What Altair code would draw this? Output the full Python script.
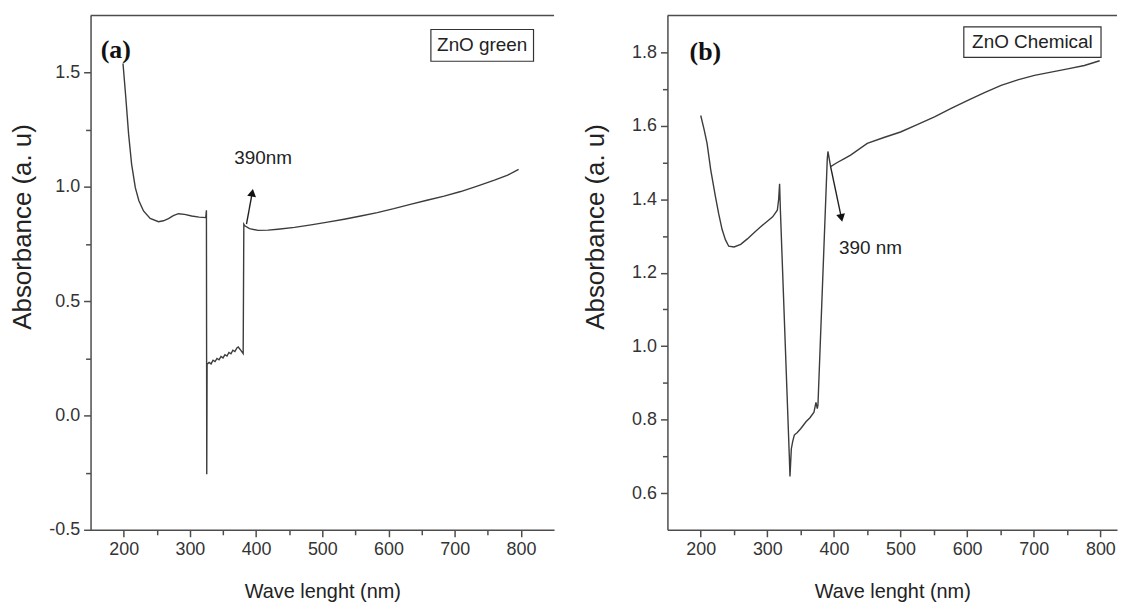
import altair as alt
import pandas as pd

# ---------------- data ----------------
# Panel (a): ZnO green
a_wl = [199, 203, 207.5, 212, 217.6, 223, 230, 240, 252.6, 260, 267.7, 275, 282.7, 292,
        302.7, 314, 324, 325, 325.5, 326,
        329, 332, 335, 338, 341, 344, 347, 350, 353, 356, 359, 362, 365, 368, 371, 373,
        377, 380.5, 381.5, 383, 390, 403, 418, 433, 458, 483, 508, 533, 558, 583, 608,
        633, 658, 684, 709, 734, 760, 780, 796.5]
a_abs = [1.54, 1.40, 1.23, 1.10, 0.997, 0.94, 0.895, 0.862, 0.848, 0.852, 0.862, 0.875, 0.883, 0.880,
         0.873, 0.868, 0.866, 0.898, -0.257, 0.224,
         0.232, 0.226, 0.242, 0.236, 0.250, 0.244, 0.258, 0.252, 0.266, 0.260, 0.276, 0.270, 0.286, 0.280, 0.296, 0.300,
         0.285, 0.271, 0.837, 0.830, 0.818, 0.810, 0.811, 0.815, 0.823, 0.834, 0.846, 0.859, 0.873, 0.888, 0.905,
         0.924, 0.942, 0.960, 0.980, 1.004, 1.030, 1.052, 1.077]

# Panel (b): ZnO Chemical
b_wl = [200, 205, 209.5, 215, 222, 227, 232, 237, 242, 250, 260, 270, 280, 290, 300, 308, 315,
        317, 318.4, 319.6, 333, 334, 336, 338, 340.5, 345, 350, 358, 364, 370, 373, 375, 376,
        390, 391, 395, 405, 415, 425, 450, 475, 500, 525, 551, 576, 601, 626, 651, 676, 701,
        726, 751, 776, 799]
b_abs = [1.628, 1.59, 1.552, 1.48, 1.408, 1.36, 1.318, 1.29, 1.272, 1.27, 1.277, 1.292, 1.309, 1.325, 1.34, 1.352, 1.37,
         1.40, 1.442, 1.37, 0.70, 0.645, 0.72, 0.74, 0.758, 0.765, 0.775, 0.794, 0.805, 0.82, 0.847, 0.83, 0.84,
         1.51, 1.53, 1.489, 1.50, 1.51, 1.52, 1.552, 1.568, 1.583, 1.603, 1.624, 1.647, 1.669, 1.69, 1.71, 1.725, 1.737,
         1.746, 1.755, 1.764, 1.777]

x_ticks = [200, 250, 300, 350, 400, 450, 500, 550, 600, 650, 700, 750, 800]
a_y_ticks = [-0.5, -0.25, 0.0, 0.25, 0.5, 0.75, 1.0, 1.25, 1.5]
b_y_ticks = [0.6, 0.7, 0.8, 0.9, 1.0, 1.1, 1.2, 1.3, 1.4, 1.5, 1.6, 1.7, 1.8]

x_title = "Wave lenght (nm)"
y_title = "Absorbance (a. u)"

# annotations (data coordinates)
a_letter = "(a)"; a_letter_xy = (188, 1.60)
b_letter = "(b)"; b_letter_xy = (207, 1.80)
a_box = (664, 819, 1.55, 1.689); a_box_text = "ZnO green"
b_box = (595, 801, 1.786, 1.869); b_box_text = "ZnO Chemical"
a_arrow = [(385.5, 0.837), (394.2, 0.975)]; a_arrow_angle = 10
b_arrow = [(395, 1.489), (411.2, 1.349)]; b_arrow_angle = 168
a_note = "390nm"; a_note_xy = (410.5, 1.128)
b_note = "390 nm"; b_note_xy = (455, 1.268)

FONT = "Liberation Sans, Arial, sans-serif"
INK = "#3c3c3c"
AX = "#4d4d4d"


def panel(wl, ab, xdom, ydom, w, h, yvals, ytest, title_x, title_y,
          letter, letter_xy, box, box_text, arrow, arrow_angle, note, note_xy):
    xtest = "datum.value % 100 === 0"
    x_enc = alt.X(
        "x:Q",
        scale=alt.Scale(domain=xdom, nice=False, zero=False),
        axis=alt.Axis(
            values=x_ticks, grid=False, title=x_title,
            labelExpr=f"{xtest} ? datum.label : ''",
            tickSize={"condition": {"test": xtest, "value": 7}, "value": 5},
            titlePadding=23, titleFontSize=20,
        ),
    )
    y_enc = alt.Y(
        "y:Q",
        scale=alt.Scale(domain=ydom, nice=False, zero=False),
        axis=alt.Axis(
            values=yvals, grid=False, title=y_title, format=".1f",
            labelExpr=f"{ytest} ? replace(datum.label, '\u2212', '-') : ''",
            tickSize={"condition": {"test": ytest, "value": 7}, "value": 5},
            titleX=title_x, titleY=title_y, titleFontSize=26,
        ),
    )

    df = pd.DataFrame({"x": wl, "y": ab, "i": list(range(len(wl)))})
    curve = alt.Chart(df).mark_line(color=INK, strokeWidth=1.4).encode(
        x=x_enc, y=y_enc, order="i:Q")

    box_df = pd.DataFrame({"x": [box[0]], "x2": [box[1]], "y": [box[2]], "y2": [box[3]]})
    rect = alt.Chart(box_df).mark_rect(fill="white", stroke="#333", strokeWidth=1.2).encode(
        x=x_enc, x2="x2:Q", y=y_enc, y2="y2:Q")

    bt_df = pd.DataFrame({"x": [(box[0] + box[1]) / 2], "y": [(box[2] + box[3]) / 2], "t": [box_text]})
    btext = alt.Chart(bt_df).mark_text(font=FONT, fontSize=19, color="#222").encode(
        x=x_enc, y=y_enc, text="t:N")

    lt_df = pd.DataFrame({"x": [letter_xy[0]], "y": [letter_xy[1]], "t": [letter]})
    ltext = alt.Chart(lt_df).mark_text(font="Liberation Serif", fontSize=26, fontWeight="bold",
                                       color="#111").encode(x=x_enc, y=y_enc, text="t:N")

    ar_df = pd.DataFrame({"x": [p[0] for p in arrow], "y": [p[1] for p in arrow], "i": [0, 1]})
    shaft = alt.Chart(ar_df).mark_line(color="#222", strokeWidth=1.4).encode(
        x=x_enc, y=y_enc, order="i:Q")
    hd_df = pd.DataFrame({"x": [arrow[1][0]], "y": [arrow[1][1]]})
    head = alt.Chart(hd_df).mark_point(shape="triangle-up", filled=True, size=80, color="#111",
                                       opacity=1, angle=arrow_angle).encode(x=x_enc, y=y_enc)

    nt_df = pd.DataFrame({"x": [note_xy[0]], "y": [note_xy[1]], "t": [note]})
    ntext = alt.Chart(nt_df).mark_text(font=FONT, fontSize=19, color="#222").encode(
        x=x_enc, y=y_enc, text="t:N")

    top = alt.Chart(pd.DataFrame({"k": [0]})).mark_rule(color=AX, strokeWidth=1.5).encode(
        x=alt.value(0), x2=alt.value(w), y=alt.value(0))

    return alt.layer(rect, btext, curve, shaft, head, ntext, ltext, top).properties(width=w, height=h)


pa = panel(a_wl, a_abs, [150, 850], [-0.5, 1.75], 466, 517, a_y_ticks,
           "abs(datum.value*2 - round(datum.value*2)) < 0.001", -55, 212,
           a_letter, a_letter_xy, a_box, a_box_text, a_arrow, a_arrow_angle, a_note, a_note_xy)
pb = panel(b_wl, b_abs, [150, 825], [0.5, 1.9], 452, 517, b_y_ticks,
           "abs(datum.value*5 - round(datum.value*5)) < 0.001", -59, 212,
           b_letter, b_letter_xy, b_box, b_box_text, b_arrow, b_arrow_angle, b_note, b_note_xy)

chart = alt.hconcat(pa, pb, spacing=28).properties(
    padding={"left": 2, "top": 5, "right": 0, "bottom": 0},
    background="white",
).configure_view(stroke=None).configure_axis(
    domainColor=AX, domainWidth=1.5, tickColor=AX, tickWidth=1.5,
    labelFont=FONT, labelFontSize=18, labelColor="#333", labelPadding=4,
    titleFont=FONT, titleColor="#222", titleFontWeight="normal",
)

chart.save("out.html", embed_options={"renderer": "svg", "actions": False})
